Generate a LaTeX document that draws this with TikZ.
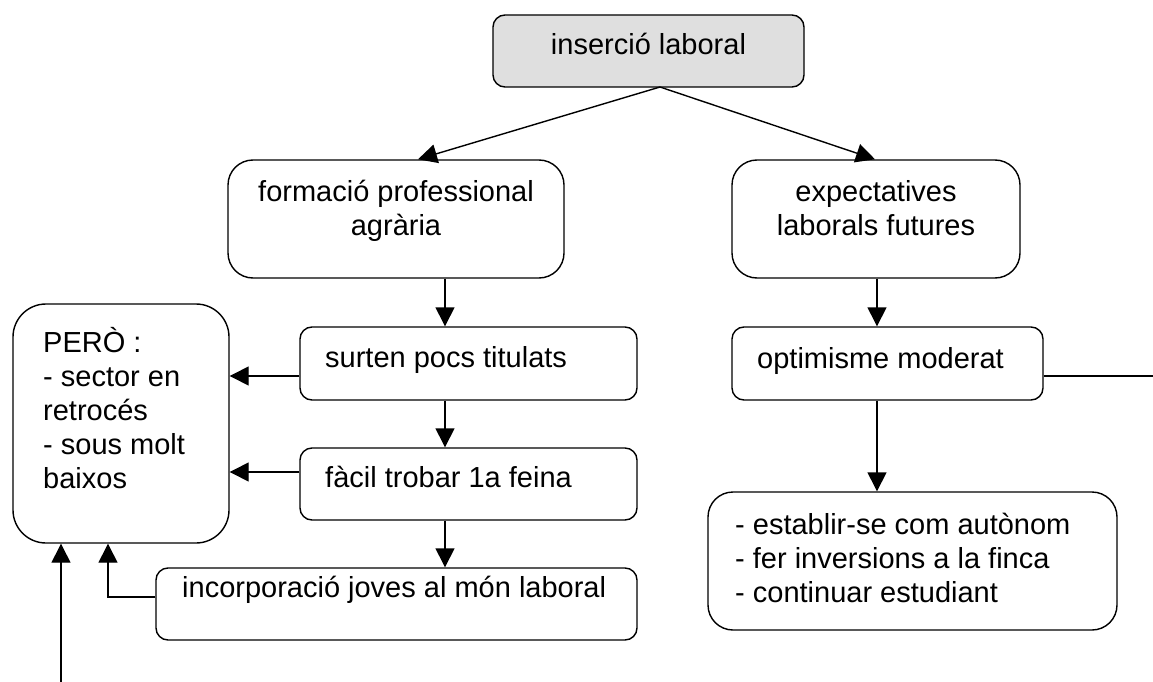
\documentclass[tikz,border=0pt]{standalone}
\usepackage{fontspec}
\setmainfont{Liberation Sans}
\usetikzlibrary{arrows.meta}
\begin{document}
\begin{tikzpicture}[x=1pt,y=-1pt,
  box/.style={draw, line width=1.4pt, inner sep=0pt, rounded corners=#1},
  box/.default=12pt,
  txt/.style={inner sep=0pt, font=\fontsize{29}{33.8}\selectfont},
  conn/.style={line width=1.4pt},
  arr/.style={conn, -{Triangle[length=19pt,width=19pt]}}]
\useasboundingbox (0,0) rectangle (1153,682);
% boxes
\node[box, fill=gray!25, minimum width=311pt, minimum height=72pt] (ins) at (648.5,51) {};
\node[box=25pt, minimum width=336pt, minimum height=118pt] (form) at (396,219) {};
\node[box=25pt, minimum width=288pt, minimum height=118pt] (exp) at (876,219) {};
\node[box=33pt, minimum width=216pt, minimum height=239pt] (pero) at (121,423.5) {};
\node[box, minimum width=337pt, minimum height=73pt] (surt) at (468.5,363.5) {};
\node[box, minimum width=337pt, minimum height=72pt] (fac) at (468.5,484) {};
\node[box, minimum width=481pt, minimum height=72pt] (inc) at (396.5,604) {};
\node[box, minimum width=311pt, minimum height=73pt] (opt) at (887.5,363.5) {};
\node[box=25pt, minimum width=409pt, minimum height=138pt] (list) at (912.5,561) {};
% texts (base anchor = baseline of last line)
\node[txt, anchor=base] (insT) at (648.5,55) {inserció laboral};
\node[txt, anchor=base, align=center] (formT) at (396,235) {formació professional\\agrària};
\node[txt, anchor=base, align=center] (expT) at (876,235) {expectatives\\laborals futures};
\node[txt, anchor=base west, align=left] (peroT) at (43,488) {PERÒ :\\- sector en\\retrocés\\- sous molt\\baixos};
\node[txt, anchor=base west] (surtT) at (325,367) {surten pocs titulats};
\node[txt, anchor=base west] (facT) at (325,487) {fàcil trobar 1a feina};
\node[txt, anchor=base west] (incT) at (182,597) {incorporació joves al món laboral};
\node[txt, anchor=base west] (optT) at (757,368) {optimisme moderat};
\node[txt, anchor=base west, align=left] (listT) at (735,602) {- establir-se com autònom\\- fer inversions a la finca\\- continuar estudiant};
% helper coordinates
\coordinate (apex) at (660,87);
\coordinate (tipF) at (418,0);
\coordinate (tipE) at (875,0);
\coordinate (xL) at (445,0);
\coordinate (xR) at (877,0);
\coordinate (y1) at (0,376);
\coordinate (y2) at (0,472);
\coordinate (y3) at (0,597);
\coordinate (x3) at (108,0);
\coordinate (optEnd) at (1153,376);
\coordinate (bot) at (61,682);
% connectors
\draw[arr] (apex) -- (form.north -| tipF);
\draw[arr] (apex) -- (exp.north -| tipE);
\draw[arr] (form.south -| xL) -- (surt.north -| xL);
\draw[arr] (surt.south -| xL) -- (fac.north -| xL);
\draw[arr] (fac.south -| xL) -- (inc.north -| xL);
\draw[arr] (exp.south -| xR) -- (opt.north -| xR);
\draw[arr] (opt.south -| xR) -- (list.north -| xR);
\draw[conn] (opt.east |- optEnd) -- (optEnd);
\draw[arr] (surt.west |- y1) -- (pero.east |- y1);
\draw[arr] (fac.west |- y2) -- (pero.east |- y2);
\draw[arr] (inc.west |- y3) -| (pero.south -| x3);
\draw[arr] (bot) -- (pero.south -| bot);
\end{tikzpicture}
\end{document}
